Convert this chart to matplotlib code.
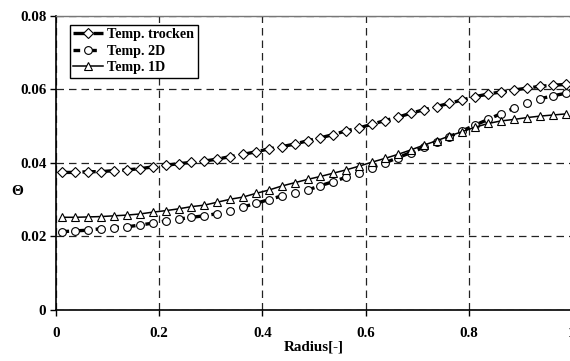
import matplotlib
matplotlib.use("Agg")
import matplotlib.pyplot as plt
import numpy as np

radius = [0.0125 + 0.025 * i for i in range(40)]

temp_trocken = [0.0374, 0.0374, 0.0376, 0.0376, 0.0379, 0.0381, 0.0384, 0.0389, 0.0393, 0.0398,
                0.0401, 0.0405, 0.0410, 0.0417, 0.0423, 0.0430, 0.0438, 0.0444, 0.0451, 0.0460,
                0.0468, 0.0477, 0.0487, 0.0495, 0.0505, 0.0515, 0.0524, 0.0535, 0.0544, 0.0553,
                0.0562, 0.0571, 0.0580, 0.0587, 0.0593, 0.0598, 0.0603, 0.0608, 0.0611, 0.0613]
temp_2d = [0.0213, 0.0215, 0.0217, 0.0221, 0.0224, 0.0226, 0.0231, 0.0236, 0.0242, 0.0247,
           0.0252, 0.0256, 0.0262, 0.0270, 0.0280, 0.0290, 0.0300, 0.0310, 0.0318, 0.0326,
           0.0338, 0.0349, 0.0361, 0.0373, 0.0387, 0.0400, 0.0414, 0.0428, 0.0442, 0.0458,
           0.0471, 0.0487, 0.0503, 0.0518, 0.0534, 0.0548, 0.0562, 0.0574, 0.0582, 0.0589]
temp_1d = [0.0252, 0.0252, 0.0253, 0.0254, 0.0256, 0.0258, 0.0261, 0.0266, 0.0270, 0.0275,
           0.0281, 0.0285, 0.0293, 0.0301, 0.0307, 0.0317, 0.0326, 0.0337, 0.0346, 0.0355,
           0.0363, 0.0372, 0.0381, 0.0391, 0.0402, 0.0412, 0.0423, 0.0435, 0.0448, 0.0460,
           0.0473, 0.0485, 0.0497, 0.0507, 0.0514, 0.0518, 0.0523, 0.0527, 0.0530, 0.0533]

series_labels = ["Temp. trocken", "Temp. 2D", "Temp. 1D"]
x_ticks = [0, 0.2, 0.4, 0.6, 0.8, 1.0]
x_tick_labels = ["0", "0.2", "0.4", "0.6", "0.8", "1"]
y_ticks = [0, 0.02, 0.04, 0.06, 0.08]
y_tick_labels = ["0", "0.02", "0.04", "0.06", "0.08"]

font = "Liberation Serif"
plt.rcParams["font.family"] = [font, "DejaVu Serif"]
plt.rcParams["font.weight"] = "bold"

fig = plt.figure(figsize=(5.7, 3.61), dpi=100)
ax = fig.add_axes([0.0982, 0.1413, 0.9053, 0.8152])

ax.plot(radius, temp_trocken, color="black", lw=2.4, linestyle=(0, (4, 2)),
        marker="D", markersize=4.8, markerfacecolor="white", markeredgecolor="black",
        markeredgewidth=0.8, label=series_labels[0], zorder=3)
ax.plot(radius, temp_2d, color="black", lw=2.4, linestyle=(0, (2, 3)),
        marker="o", markersize=5.6, markerfacecolor="white", markeredgecolor="black",
        markeredgewidth=0.8, label=series_labels[1], zorder=3)
ax.plot(radius, temp_1d, color="black", lw=1.1, linestyle="-",
        marker="^", markersize=6, markerfacecolor="white", markeredgecolor="black",
        markeredgewidth=0.8, label=series_labels[2], zorder=3)

ax.set_xlim(0, 1.0)
ax.set_ylim(0, 0.08)
ax.set_xticks(x_ticks)
ax.set_xticklabels(x_tick_labels)
ax.set_yticks(y_ticks)
ax.set_yticklabels(y_tick_labels)
ax.tick_params(axis="both", labelsize=10.8, direction="out", length=4, width=1, color="black")
ax.tick_params(axis="x", pad=8)
ax.tick_params(axis="y", pad=3)
for lab in ax.get_xticklabels() + ax.get_yticklabels():
    lab.set_fontweight("bold")

ax.grid(True, color="#222222", linestyle=(0, (6, 4)), linewidth=0.9)
ax.set_axisbelow(True)

ax.spines["left"].set_linewidth(1.2)
ax.spines["bottom"].set_linewidth(1.2)
ax.spines["top"].set_color("#777777")
ax.spines["top"].set_linewidth(1.0)
ax.spines["right"].set_visible(False)

ax.set_xlabel("Radius[-]", fontsize=10.8, fontweight="bold")
ax.set_ylabel("Θ", fontsize=11, fontweight="bold", rotation=0)
ax.yaxis.set_label_coords(-0.076, 0.38)
ax.xaxis.set_label_coords(0.5, -0.105)

leg = ax.legend(loc="upper left", bbox_to_anchor=(0.027, 0.97), fontsize=10.2,
                frameon=True, fancybox=False, edgecolor="black", framealpha=1,
                handlelength=2.1, handletextpad=0.3, borderpad=0.25, labelspacing=0.25,
                borderaxespad=0)
leg.get_frame().set_linewidth(1.0)
for t in leg.get_texts():
    t.set_fontweight("bold")

fig.savefig("out.png", dpi=100, facecolor="white")
